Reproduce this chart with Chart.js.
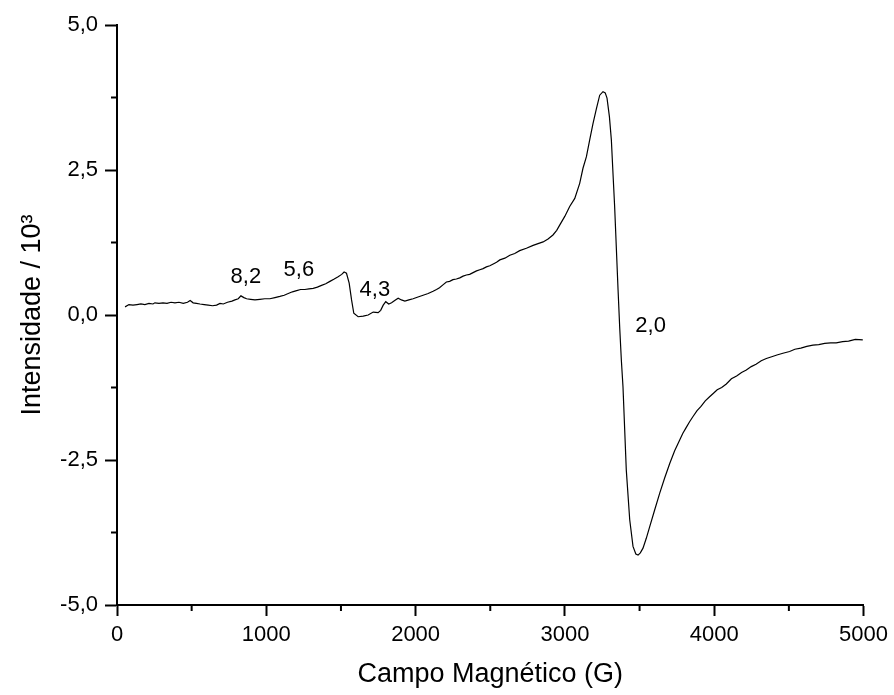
<!DOCTYPE html>
<html>
<head>
<meta charset="utf-8">
<script src="https://cdn.jsdelivr.net/npm/chart.js@4"></script>
<style>
  html, body { margin: 0; padding: 0; background: #fff; }
  canvas { display: block; }
</style>
</head>
<body>
<canvas id="chartEPR" width="894" height="695"></canvas>
<script>
// EPR spectrum - campo (G) x intensidade (/10^3)
const fieldG = [
  54, 80, 107, 134, 160, 187, 214, 241, 254, 281, 308, 335, 362, 388, 415, 444, 472, 490, 510, 532,
  556, 584, 611, 640, 667, 690, 712, 740, 770, 790, 812, 830, 850, 868, 895, 924, 957, 990,
  1024, 1058, 1091, 1120, 1147, 1175, 1203, 1230, 1258, 1286, 1314, 1342, 1370, 1398, 1426, 1455,
  1481, 1505, 1521, 1537, 1555, 1571, 1586, 1615, 1649, 1682, 1716, 1749, 1766, 1783, 1800, 1820,
  1839, 1860, 1883, 1905, 1928, 1955, 1983, 2016, 2050, 2084, 2117, 2140, 2160, 2183, 2206, 2228,
  2250, 2273, 2296, 2318, 2340, 2362, 2385, 2408, 2430, 2452, 2474, 2497, 2520, 2542, 2564, 2598,
  2631, 2664, 2697, 2742, 2787, 2820, 2854, 2887, 2920, 2945, 2965, 2999, 3032, 3066, 3099, 3121,
  3144, 3166, 3188, 3211, 3233, 3255, 3270, 3282, 3298, 3311, 3322, 3333, 3344, 3356, 3367, 3378,
  3389, 3411, 3434, 3456, 3475, 3490, 3505, 3523, 3545, 3568, 3600, 3635, 3668, 3702, 3735, 3768,
  3790, 3810, 3835, 3858, 3885, 3910, 3940, 3969, 3995, 4020, 4050, 4081, 4115, 4150, 4183, 4215,
  4248, 4280, 4315, 4349, 4385, 4420, 4460, 4505, 4540, 4580, 4620, 4661, 4700, 4740, 4780, 4817,
  4860, 4900, 4945, 4995
];
const intensity = [
  0.14, 0.18, 0.17, 0.18, 0.19, 0.18, 0.20, 0.19, 0.21, 0.20, 0.21, 0.20, 0.22, 0.21, 0.22, 0.20, 0.22, 0.25, 0.21, 0.20,
  0.19, 0.18, 0.17, 0.16, 0.17, 0.20, 0.19, 0.22, 0.24, 0.26, 0.28, 0.33, 0.30, 0.28, 0.27, 0.26, 0.27, 0.28,
  0.28, 0.30, 0.32, 0.34, 0.37, 0.40, 0.42, 0.44, 0.44, 0.45, 0.46, 0.48, 0.51, 0.54, 0.58, 0.62,
  0.66, 0.70, 0.74, 0.72, 0.55, 0.26, 0.03, -0.03, -0.02, 0.00, 0.05, 0.04, 0.08, 0.17, 0.23, 0.19,
  0.21, 0.25, 0.29, 0.26, 0.24, 0.26, 0.28, 0.31, 0.34, 0.37, 0.41, 0.44, 0.47, 0.52, 0.57, 0.58,
  0.61, 0.62, 0.64, 0.67, 0.69, 0.70, 0.73, 0.76, 0.78, 0.80, 0.83, 0.85, 0.88, 0.91, 0.95, 0.98,
  1.03, 1.06, 1.11, 1.15, 1.20, 1.23, 1.26, 1.31, 1.38, 1.46, 1.55, 1.70, 1.87, 2.01, 2.27, 2.53,
  2.73, 3.02, 3.30, 3.56, 3.79, 3.85, 3.83, 3.74, 3.42, 3.02, 2.44, 1.87, 1.18, 0.43, -0.22, -0.78,
  -1.24, -2.67, -3.53, -3.99, -4.12, -4.14, -4.10, -4.02, -3.85, -3.65, -3.37, -3.07, -2.81, -2.56, -2.34, -2.16,
  -2.04, -1.95, -1.84, -1.75, -1.65, -1.58, -1.48, -1.41, -1.35, -1.29, -1.25, -1.19, -1.10, -1.05, -0.99, -0.95,
  -0.89, -0.85, -0.79, -0.75, -0.72, -0.69, -0.66, -0.63, -0.59, -0.57, -0.54, -0.52, -0.51, -0.49, -0.48, -0.48,
  -0.46, -0.45, -0.42, -0.43
];

// y-axis major ticks / x-axis major ticks
const yTicks = [-5, -2.5, 0, 2.5, 5];
const xTicks = [0, 1000, 2000, 3000, 4000, 5000];
const xMinor = [500, 1500, 2500, 3500, 4500];
const yMinor = [-3.75, -1.25, 1.25, 3.75];

// g-value labels
const gLabels = ['8,2', '5,6', '4,3', '2,0'];
const gLabelX = [863, 1218, 1727, 3574];
const gLabelY = [0.66, 0.78, 0.43, -0.19];

const FONT = 'Liberation Sans, Arial, sans-serif';

const extras = {
  id: 'extras',
  afterDraw(chart) {
    const { ctx, scales: { x, y } } = chart;
    ctx.save();
    ctx.strokeStyle = '#000';
    ctx.lineWidth = 2;
    // minor ticks
    xMinor.forEach(v => {
      const px = x.getPixelForValue(v);
      ctx.beginPath(); ctx.moveTo(px, y.bottom); ctx.lineTo(px, y.bottom + 6); ctx.stroke();
    });
    yMinor.forEach(v => {
      const py = y.getPixelForValue(v);
      ctx.beginPath(); ctx.moveTo(x.left, py); ctx.lineTo(x.left - 6, py); ctx.stroke();
    });
    // labels
    ctx.fillStyle = '#000';
    ctx.font = '22px ' + FONT;
    ctx.textAlign = 'center';
    ctx.textBaseline = 'middle';
    gLabels.forEach((t, i) => {
      ctx.fillText(t, x.getPixelForValue(gLabelX[i]), y.getPixelForValue(gLabelY[i]));
    });
    ctx.restore();
  }
};

new Chart(document.getElementById('chartEPR'), {
  type: 'line',
  data: {
    datasets: [{
      data: fieldG.map((g, i) => ({ x: g, y: intensity[i] })),
      borderColor: '#000', borderWidth: 1.2, pointRadius: 0, tension: 0, fill: false
    }]
  },
  options: {
    responsive: false, animation: false,
    layout: { padding: { top: 25, right: 30, left: 0, bottom: 0 } },
    plugins: { legend: { display: false }, tooltip: { enabled: false } },
    scales: {
      x: {
        type: 'linear', min: 0, max: 5000,
        afterBuildTicks: s => { s.ticks = xTicks.map(v => ({ value: v })); },
        afterFit: s => { s.height = 90; },
        ticks: { color: '#000', font: { family: FONT, size: 22 }, padding: 6, maxRotation: 0, callback: v => String(v) },
        grid: { drawOnChartArea: false, drawTicks: true, tickLength: 11, tickWidth: 2, tickColor: '#000' },
        border: { display: true, color: '#000', width: 2 },
        title: { display: true, text: 'Campo Magnético (G)', color: '#000', font: { family: FONT, size: 27 }, padding: { top: 4 } }
      },
      y: {
        min: -5, max: 5,
        afterBuildTicks: s => { s.ticks = yTicks.map(v => ({ value: v })); },
        afterFit: s => { s.width = 117; },
        ticks: { color: '#000', font: { family: FONT, size: 22 }, padding: 7, callback: v => v.toFixed(1).replace('.', ',') },
        grid: { drawOnChartArea: false, drawTicks: true, tickLength: 12, tickWidth: 2, tickColor: '#000' },
        border: { display: true, color: '#000', width: 2 },
        title: { display: true, text: 'Intensidade / 10³', color: '#000', font: { family: FONT, size: 27 }, padding: { top: 16, bottom: 0 } }
      }
    }
  },
  plugins: [extras]
});
</script>
</body>
</html>
